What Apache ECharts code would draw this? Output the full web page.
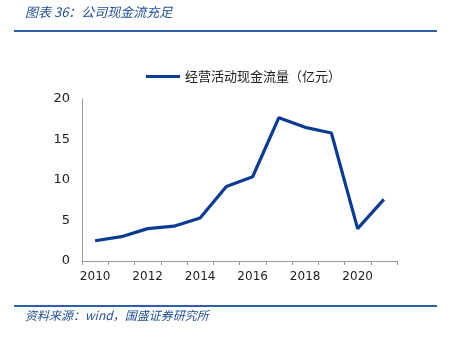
<!DOCTYPE html>
<html>
<head>
<meta charset="utf-8">
<script src="https://cdn.jsdelivr.net/npm/echarts@6/dist/echarts.min.js"></script>
<style>
html,body{margin:0;padding:0;background:#fff;}
#c{width:453px;height:338px;}
</style>
</head>
<body>
<div id="c"></div>
<script>
const years = ['2010','2011','2012','2013','2014','2015','2016','2017','2018','2019','2020','2021'];
const cashFlow = [2.5, 3.0, 4.0, 4.3, 5.3, 9.2, 10.4, 17.7, 16.5, 15.8, 4.0, 7.6];
const seriesName = '经营活动现金流量（亿元）';
const titleText = '图表 36：公司现金流充足';
const sourceText = '资料来源：wind，国盛证券研究所';
const yTicks = [0, 5, 10, 15, 20];

const chart = echarts.init(document.getElementById('c'), null, {renderer:'canvas'});
const blue = '#0a3c94';
chart.setOption({
  animation: false,
  backgroundColor: '#fff',
  grid: {left: 82, right: 56, top: 99, bottom: 77},
  legend: {
    data: [seriesName],
    top: 65, left: 141,
    itemWidth: 34, itemHeight: 3,
    itemGap: 6,
    icon: 'rect',
    textStyle: {fontSize: 13, color: '#222', fontFamily: 'Noto Sans CJK SC'}
  },
  xAxis: {
    type: 'category',
    data: years,
    boundaryGap: true,
    axisLine: {lineStyle: {color: '#9a9a9a', width: 1}},
    axisTick: {show: true, length: 4, lineStyle: {color: '#9a9a9a'}, interval: 0},
    axisLabel: {interval: 1, color: '#222', fontSize: 12, margin: 10, fontFamily: 'DejaVu Sans'}
  },
  yAxis: {
    type: 'value',
    min: yTicks[0], max: yTicks[yTicks.length-1], interval: 5,
    axisLine: {show: true, lineStyle: {color: '#9a9a9a', width: 1}},
    axisTick: {show: false},
    splitLine: {show: false},
    axisLabel: {color: '#222', fontSize: 13, margin: 12, fontFamily: 'DejaVu Sans'}
  },
  series: [{
    name: seriesName,
    type: 'line',
    data: cashFlow,
    symbol: 'none',
    lineStyle: {color: blue, width: 3.2},
    itemStyle: {color: blue}
  }],
  graphic: [
    {type: 'text', left: 25, top: 6, style: {text: titleText, fill: '#1f4e9a', font: 'italic 13px "Noto Sans CJK SC"'}},
    {type: 'line', shape: {x1: 14, y1: 31, x2: 437, y2: 31}, style: {stroke: '#2e5fa8', lineWidth: 2}},
    {type: 'line', shape: {x1: 14, y1: 306, x2: 437, y2: 306}, style: {stroke: '#2e5fa8', lineWidth: 2}},
    {type: 'text', left: 25, top: 309, style: {text: sourceText, fill: '#1f4e9a', font: 'italic 12px "Noto Sans CJK SC"'}}
  ]
});
</script>
</body>
</html>
